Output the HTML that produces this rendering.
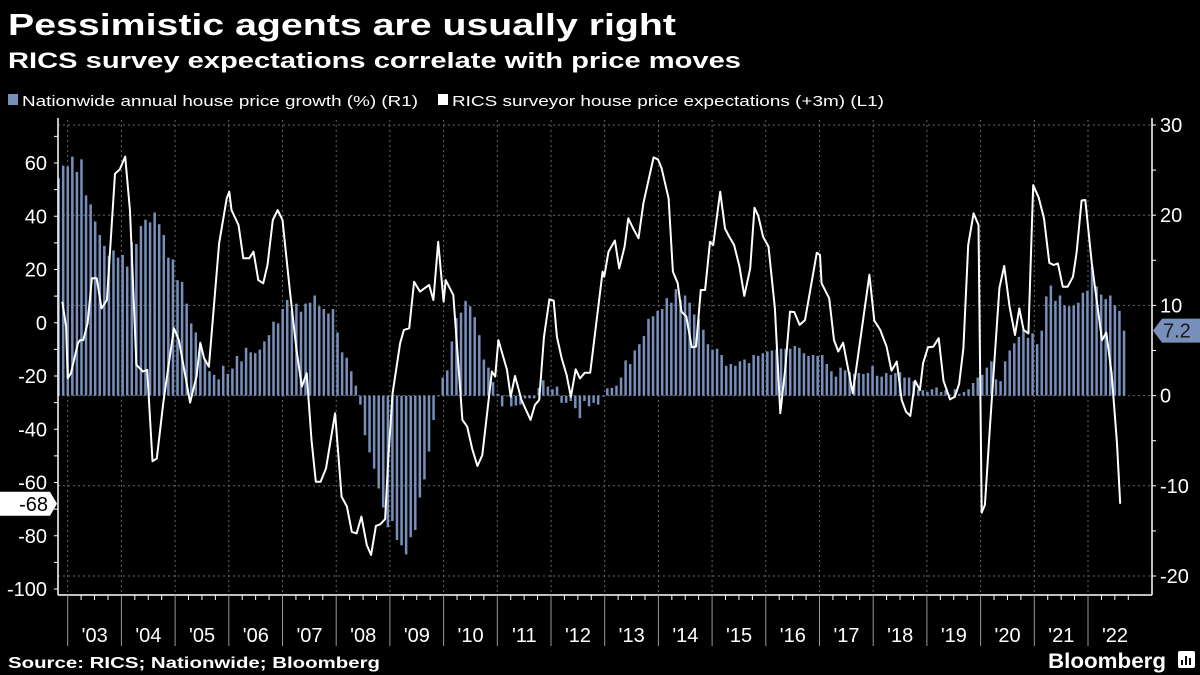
<!DOCTYPE html>
<html><head><meta charset="utf-8">
<style>
body{margin:0;background:#000;width:1200px;height:675px;overflow:hidden;font-family:"Liberation Sans",sans-serif;color:#fff}
svg{position:absolute;left:0;top:0}
</style></head>
<body>
<svg id="chart" width="1200" height="675" viewBox="0 0 1200 675">
<text x="8" y="35" font-size="31" font-weight="bold" fill="#fff" textLength="668" lengthAdjust="spacingAndGlyphs">Pessimistic agents are usually right</text>
<text x="8" y="68" font-size="22" font-weight="bold" fill="#fff" textLength="733" lengthAdjust="spacingAndGlyphs">RICS survey expectations correlate with price moves</text>
<g>
<rect x="8" y="94" width="10" height="11" fill="#7690bb"/>
<text x="22" y="106" font-size="15" fill="#fff" textLength="396" lengthAdjust="spacingAndGlyphs">Nationwide annual house price growth (%) (R1)</text>
<rect x="438" y="94" width="10" height="11" fill="#fff"/>
<text x="452" y="106" font-size="15" fill="#fff" textLength="432" lengthAdjust="spacingAndGlyphs">RICS surveyor house price expectations (+3m) (L1)</text>
</g>
<g id="grid"></g>
<g id="bars"></g>
<g id="line"></g>
<g id="axes"></g>
<text x="8" y="668" font-size="16" font-weight="bold" fill="#fff" textLength="372" lengthAdjust="spacingAndGlyphs">Source: RICS; Nationwide; Bloomberg</text>
<text x="1048" y="668" font-size="21" font-weight="bold" fill="#fff" textLength="118" lengthAdjust="spacingAndGlyphs">Bloomberg</text>
<g>
<rect x="1178" y="651" width="17" height="17" rx="2" fill="#fff"/>
<rect x="1181" y="660" width="2" height="5" fill="#000"/><rect x="1185" y="656" width="2" height="9" fill="#000"/><rect x="1189" y="658" width="2" height="7" fill="#000"/>
</g>
</svg>
<script>
// Nationwide annual house price growth (%), monthly from Nov 2002 (right axis)
const barValues=[24.1,25.5,25.4,26.5,24.8,26.2,22.2,21.2,19.3,17.8,16.6,15.5,16.1,15.3,15.6,14.3,17.0,16.8,18.8,19.5,19.2,20.3,19.0,17.8,15.3,15.1,12.8,12.6,10.2,8.0,7.0,5.6,4.1,2.7,2.3,1.8,3.3,2.4,3.0,4.4,3.8,5.3,4.8,4.7,5.1,6.0,6.7,8.2,8.0,9.6,10.6,9.4,10.2,9.3,10.2,10.3,11.1,9.9,9.6,9.1,9.6,7.0,4.8,4.2,2.7,1.1,-1.0,-4.4,-6.3,-8.1,-10.3,-12.4,-14.6,-13.9,-16.0,-16.6,-17.6,
-15.7,-14.9,-11.3,-9.3,-6.2,-2.7,0,2.0,2.8,6.0,8.6,9.2,10.5,9.9,8.7,6.7,4.0,3.1,1.5,0.2,-1.2,0,-1.2,-1.1,-1.0,-0.3,-0.3,-0.3,0.85,1.7,1.0,0.7,1.0,-0.8,-0.8,-0.6,-1.4,-2.5,-0.6,-1.2,-0.8,-1.0,0,0.8,0.85,1.1,2.0,3.9,3.5,5.0,5.7,6.6,8.5,8.8,9.4,9.6,10.8,10.3,11.8,10.6,11.1,10.3,9.0,8.5,7.3,5.7,5.1,5.2,4.5,3.3,3.5,3.3,3.8,4.0,3.6,4.5,4.4,4.7,4.9,5.0,5.1,5.2,
5.2,5.2,5.5,5.3,4.7,4.4,4.5,4.4,4.5,3.5,2.7,2.1,3.1,2.8,2.6,2.4,2.5,2.4,2.5,3.3,2.2,2.1,2.5,2.3,2.5,2.6,2.0,2.0,1.6,0.7,0.6,0.4,0.7,0.9,0.4,0.6,0.1,0.7,0.2,0.4,0.7,1.4,2.0,2.3,3.1,3.8,1.8,1.6,3.8,5.0,5.8,6.5,7.3,6.4,6.9,5.7,7.2,11.0,12.2,10.5,11.1,10.0,9.9,10.0,10.3,11.4,11.6,14.3,12.1,11.2,10.7,11.1,10.0,9.4,7.2];
// RICS expectations: dates (decimal years) and values (left axis)
const lineDates=[2002.90,2002.97,2003.00,2003.06,2003.19,2003.23,2003.29,2003.37,2003.45,2003.54,2003.63,2003.73,2003.88,2003.97,2004.07,2004.16,2004.28,2004.40,2004.48,2004.58,2004.66,2004.78,2004.91,2004.98,2005.07,2005.28,2005.40,2005.47,2005.54,2005.63,2005.82,2005.96,2006.01,2006.05,2006.18,2006.27,2006.38,2006.46,2006.55,2006.64,2006.72,2006.82,2006.91,2007.00,2007.14,2007.26,2007.36,2007.45,2007.54,2007.62,2007.71,2007.81,2007.98,2008.10,2008.20,2008.29,2008.38,2008.47,2008.57,2008.65,2008.74,2008.82,2008.91,2008.97,2009.05,2009.19,
2009.26,2009.36,2009.45,2009.56,2009.73,2009.81,2009.90,2010.00,2010.04,2010.18,2010.35,2010.44,2010.53,2010.63,2010.72,2010.90,2010.96,2011.02,2011.18,2011.25,2011.33,2011.45,2011.55,2011.62,2011.70,2011.78,2011.87,2011.97,2012.05,2012.11,2012.20,2012.29,2012.37,2012.46,2012.54,2012.63,2012.73,2012.96,2012.99,2013.07,2013.19,2013.27,2013.37,2013.44,2013.53,2013.63,2013.72,2013.83,2013.91,2013.99,2014.06,2014.19,2014.27,2014.36,2014.43,2014.52,2014.62,2014.70,2014.79,2014.87,2014.96,2015.02,2015.15,2015.24,2015.32,2015.41,2015.51,2015.60,2015.71,2015.79,2015.86,2015.95,2016.05,2016.17,2016.27,2016.36,2016.45,2016.53,2016.63,
2016.73,2016.95,2017.01,2017.04,2017.18,2017.27,2017.35,2017.44,2017.62,2017.93,2018.02,2018.13,2018.25,2018.34,2018.44,2018.53,2018.61,2018.69,2018.78,2018.87,2018.93,2019.02,2019.12,2019.22,2019.31,2019.43,2019.52,2019.60,2019.68,2019.77,2019.87,2019.96,2020.02,2020.08,2020.18,2020.35,2020.44,2020.54,2020.64,2020.72,2020.80,2020.89,2020.98,2021.08,2021.18,2021.28,2021.36,2021.44,2021.53,2021.62,2021.72,2021.79,2021.88,2021.95,2022.07,2022.26,2022.34,2022.44,2022.54,2022.60];
const lineValues=[7.9,-1.4,-20.8,-19,-7.7,-6.5,-6.5,-0.2,16.7,16.7,5.4,8.5,56,57.6,62.4,42,-15.8,-18.3,-17.7,-52,-51,-30,-11.5,-2.1,-6.5,-30,-20,-7.5,-13.4,-16.5,29.8,46.7,49.2,42.3,36.7,24.2,24.2,26.7,16,14.8,21.7,38.6,42.3,38.6,11.6,-10.2,-24,-19,-44,-59.7,-59.7,-54.7,-34,-65.3,-69,-78.5,-79.1,-72.8,-83.5,-87.2,-76.3,-75.7,-73.8,-50.9,-26.5,-7.7,
-2.7,-2.1,15.4,11.7,14.2,8.5,30.4,7.9,16,10.4,-36.5,-39,-47.2,-53.8,-49.7,-18.3,-20.2,-6.5,-17.7,-27.8,-20,-29,-33.4,-36.5,-30.9,-29,-5.2,8.8,8.3,-5.2,-13.4,-19.6,-27.8,-17.5,-20.9,-18.8,-18.8,19.2,17.3,26.7,30.9,20.4,28.6,39.2,35.4,31.7,44.9,54.9,62.1,61.4,58,46.7,19.2,14.8,4.2,2.3,-9.2,-9,12.3,12.3,30.4,29.2,49.2,35.4,32.3,29.2,21,10.1,20.4,43.2,40.1,32.3,28.6,5.4,-34,-17.7,4.2,4,-0.8,
1,26.3,25.4,14.8,9.2,-6.5,-10.8,-7.5,-26.5,18,0.8,-2.7,-9,-18,-14.6,-29,-33.4,-35,-21.8,-25.3,-15.2,-9.2,-9,-5.8,-21.8,-28.8,-27.8,-23,-9.6,29.2,41.1,36.7,-71.3,-68.4,-37,13,21.3,6,-4.6,5.4,-2.7,-4,51.7,47.1,39.2,22.5,21.7,22.3,13.5,13.5,17.3,26.7,45.9,46.1,22.3,-6.5,-3.7,-19,-45.3,-68];
const yearLabels=["'03","'04","'05","'06","'07","'08","'09","'10","'11","'12","'13","'14","'15","'16","'17","'18","'19","'20","'21","'22"];
const leftTicks=[60,40,20,0,-20,-40,-60,-80,-100];
const rightTicks=[30,20,10,0,-10,-20];

const NS="http://www.w3.org/2000/svg";
const X0=58,X1=1152,YB=595;
const xYear=t=>67.7+(t-2003)*53.7;
const yL=v=>322.75-v*2.6625;
const yR=v=>395.6-v*9.02;
const barStart=2002.83,barEnd=2022.67;
const xBar=i=>xYear(barStart+(barEnd-barStart)*i/(barValues.length-1));
function mk(tag,attrs,parent){const e=document.createElementNS(NS,tag);for(const k in attrs)e.setAttribute(k,attrs[k]);parent.appendChild(e);return e;}
const grid=document.getElementById('grid'),bars=document.getElementById('bars'),line=document.getElementById('line'),axes=document.getElementById('axes');
rightTicks.forEach(v=>{const l=mk('line',{x1:X0,x2:X1,y1:yR(v),y2:yR(v),stroke:'#666','stroke-dasharray':'2,3','stroke-width':1},grid);

});
yearLabels.forEach((s,i)=>{const x=xYear(2003+i);const l=mk('line',{x1:x,x2:x,y1:120,y2:YB,stroke:'#666','stroke-dasharray':'2,3','stroke-width':1},grid);

});
barValues.forEach((v,i)=>{const x=xBar(i);const y0=yR(0),y1=yR(v);const r=mk('rect',{x:x-1.2,y:Math.min(y0,y1),width:2.5,height:Math.max(0.8,Math.abs(y1-y0)),fill:'#7690bb'},bars);

});
const pts=lineDates.map((t,i)=>xYear(t).toFixed(1)+','+yL(lineValues[i]).toFixed(1)).join(' ');
const pl=mk('polyline',{points:pts,fill:'none',stroke:'#fff','stroke-width':2,'stroke-linejoin':'round'},line);


mk('line',{x1:X0,x2:X0,y1:118,y2:YB,stroke:'#fff','stroke-width':1.5},axes);
mk('line',{x1:X1,x2:X1,y1:118,y2:YB,stroke:'#fff','stroke-width':1.5},axes);
mk('line',{x1:X0,x2:X1,y1:YB,y2:YB,stroke:'#fff','stroke-width':1.5},axes);
for(let v=70;v>=-100;v-=10){mk('line',{x1:X0-4,x2:X0,y1:yL(v),y2:yL(v),stroke:'#fff'},axes);}
for(let v=30;v>=-20;v-=5){mk('line',{x1:X1,x2:X1+4,y1:yR(v),y2:yR(v),stroke:'#fff'},axes);}
leftTicks.forEach(v=>{const t=mk('text',{x:47,y:yL(v)+7,'text-anchor':'end','font-size':20,fill:'#fff'},axes);t.textContent=v;

});
rightTicks.forEach(v=>{const t=mk('text',{x:1160,y:yR(v)+7,'font-size':20,fill:'#fff'},axes);t.textContent=v;

});
yearLabels.forEach((s,i)=>{const x=xYear(2003+i);mk('line',{x1:x,x2:x,y1:YB,y2:646,stroke:'#999'},axes);
for(let q=1;q<4;q++){const xq=x+q*53.7/4;if(xq<X1)mk('line',{x1:xq,x2:xq,y1:YB,y2:YB+5,stroke:'#fff'},axes);}
const t=mk('text',{x:x+27,y:642,'text-anchor':'middle','font-size':20,fill:'#fff'},axes);t.textContent=s;

});
const lastL=lineValues[lineValues.length-1],lastB=barValues[barValues.length-1];
const yl=yL(lastL);
const p1=mk('polygon',{points:`0,${yl-12} 50,${yl-12} 57,${yl} 50,${yl+12} 0,${yl+12}`,fill:'#fff'},axes);


const t1=mk('text',{x:48,y:yl+7,'text-anchor':'end','font-size':20,fill:'#000'},axes);t1.textContent=Math.round(lastL);


const yr=yR(lastB);
const p2=mk('polygon',{points:`1153,${yr} 1162,${yr-12} 1200,${yr-12} 1200,${yr+12} 1162,${yr+12}`,fill:'#7690bb'},axes);


const t2=mk('text',{x:1163,y:yr+7,'font-size':20,fill:'#1a1a1a'},axes);t2.textContent=lastB;


</script>
</body></html>
